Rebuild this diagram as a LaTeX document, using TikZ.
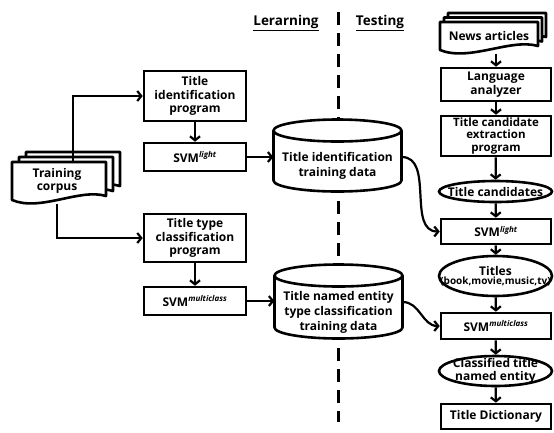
\documentclass[tikz,border=0pt]{standalone}
\usepackage{fontspec}
\setmainfont{Open Sans}
\usetikzlibrary{arrows.meta,shapes.geometric}

\newcommand{\stackdoc}[6]{%
  \foreach \k in {2,1,0}{%
    \pgfmathsetmacro\xa{#1+\k*#5}\pgfmathsetmacro\ya{#2+\k*#6}%
    \pgfmathsetmacro\xb{\xa+#3}\pgfmathsetmacro\yb{\ya+#4}%
    \draw[doc] (\xa,\ya) -- (\xb,\ya) -- (\xb,\yb-4)
      .. controls ({\xa+0.72*#3},\yb-12) and ({\xa+0.3*#3},\yb+12) .. (\xa,\yb) -- cycle;
  }}
\newcommand{\drum}[5]{%
  \draw[doc] (#1,#2+11) -- (#1,#4-11) arc[start angle=180,end angle=360,x radius=#5pt,y radius=11pt]
    -- (#3,#2+11) arc[start angle=0,end angle=180,x radius=#5pt,y radius=11pt] -- cycle;
  \draw[line width=2.6pt] (#1,#2+11) arc[start angle=180,end angle=360,x radius=#5pt,y radius=11pt];}

\begin{document}
\begin{tikzpicture}[x=1pt,y=-1pt,
    every node/.style={font=\bfseries\fontsize{12}{13.5}\selectfont,align=center,inner sep=0},
    box/.style={draw,line width=2.6pt,fill=white,minimum width=102pt},
    col/.style={box,minimum width=110pt},
    oval/.style={ellipse,draw,line width=2.6pt,fill=white,inner xsep=-40pt,inner ysep=-10pt,minimum width=113pt},
    doc/.style={draw,line width=2.6pt,fill=white,line join=round},
    arr/.style={line width=2.2pt,-{Straight Barb[length=4pt,width=10pt]}},
    head/.style={font=\bfseries\fontsize{13.5}{15}\selectfont},
    drumtext/.style={font=\bfseries\fontsize{12}{15}\selectfont,minimum width=128pt}]
  \useasboundingbox (0,0) rectangle (554,432);
  \coordinate (divtop) at (338,12);
  \coordinate (divbot) at (338,422);
  \draw[line width=3pt,dash pattern=on 13pt off 8pt] (divtop) -- (divbot);
  \node[head] (learn) at (286,23) {\underline{Lerarning}};
  \node[head] (test) at (380,23) {\underline{Testing}};

  \drum{273.5}{119.5}{401.5}{191.5}{64}
  \drum{274.5}{264.5}{402.5}{338.5}{64}
  \stackdoc{12}{162}{94}{38}{7}{-5}
  \stackdoc{440}{22}{98}{28}{4}{-4.5}

  \node[minimum width=94pt,minimum height=38pt] (corpus) at (57,181) {Training\\corpus};
  \node[box,minimum height=50pt] (tid) at (195,96) {Title\\identification\\program};
  \node[box,minimum height=28pt] (svml) at (195,157) {SVM\textsuperscript{\itshape light}};
  \node[box,minimum height=48pt] (ttc) at (195,238) {Title type\\classification\\program};
  \node[box,minimum height=28pt] (svmm) at (195,301) {SVM\textsuperscript{\itshape multiclass}};
  \node[drumtext] (cyl1) at (337.5,166) {Title identification\\training data};
  \node[drumtext] (cyl2) at (338.5,312) {Title named entity\\type classification\\training data};

  \node[minimum width=98pt,minimum height=28pt] (news) at (489,36) {News\ articles};
  \node[col,minimum height=33pt] (lang) at (496,84.5) {Language\\analyzer};
  \node[col,minimum height=40pt,font=\bfseries\fontsize{11.5}{12.5}\selectfont] (ext) at (496,136) {Title candidate\\extraction\\program};
  \node[oval,minimum height=21pt] (cand) at (495.5,191.5) {Title candidates};
  \node[col,minimum height=25pt] (svml2) at (496,231.5) {SVM\textsuperscript{\itshape light}};
  \node[oval,minimum height=40pt] (titles) at (495.5,276) {Titles\\[-4pt]{\fontsize{10}{11}\selectfont(book,movie,music,tv)}};
  \node[col,minimum height=26pt] (svmm2) at (496,326) {SVM\textsuperscript{\itshape multiclass}};
  \node[oval,minimum height=30pt] (cls) at (495.5,371) {Classified title\\named entity};
  \node[col,minimum height=25pt] (dict) at (496,416.5) {Title Dictionary};

  \draw[arr] ([xshift=16pt]corpus.north) |- (tid);
  \draw[arr] ([yshift=-4pt]corpus.south) |- (ttc);
  \draw[arr] (tid) -- (svml);
  \draw[arr] (ttc) -- (svmm);
  \draw[arr] (svml) -- (svml -| cyl1.west);
  \draw[arr] (svmm) -- (svmm -| cyl2.west);
  \draw[arr] ([yshift=9pt]cyl1.east) to[out=0,in=180] (svml2);
  \draw[arr] ([yshift=10pt]cyl2.east) to[out=0,in=180] (svmm2);
  \draw[arr] ([xshift=7pt,yshift=-4pt]news.south) -- (lang);
  \foreach \a/\b in {lang/ext,ext/cand,cand/svml2,svml2/titles,titles/svmm2,svmm2/cls,cls/dict}
    \draw[arr] (\a) -- (\b);
\end{tikzpicture}
\end{document}
